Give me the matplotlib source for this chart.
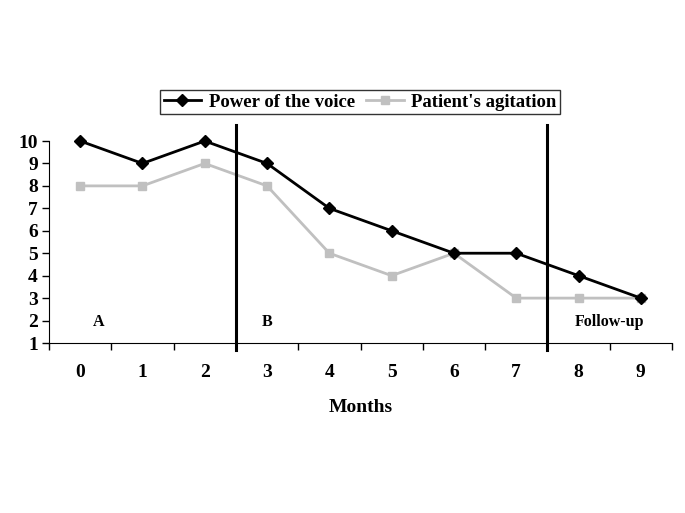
import matplotlib
matplotlib.use("Agg")
import matplotlib.pyplot as plt

months = [0, 1, 2, 3, 4, 5, 6, 7, 8, 9]
power_of_voice = [10, 9, 10, 9, 7, 6, 5, 5, 4, 3]
agitation = [8, 8, 9, 8, 5, 4, 5, 3, 3, 3]
phase_labels = ["A", "B", "Follow-up"]
phase_label_x = [0.3, 3.0, 8.5]
phase_bounds = [2.5, 7.5]

plt.rcParams['font.family'] = ['Liberation Serif', 'DejaVu Serif']
plt.rcParams['font.weight'] = 'bold'

fig = plt.figure(figsize=(6.85, 5.13), dpi=100)
ax = fig.add_axes([49/685, 1-343/513, (672-49)/685, (343-141)/513])

ax.plot(months, power_of_voice, color='black', lw=2, marker='D', ms=6,
        label='Power of the voice', zorder=3, clip_on=False)
ax.plot(months, agitation, color='#c0c0c0', lw=2, marker='s', ms=6,
        label="Patient's agitation", zorder=2, clip_on=False)

ax.set_xlim(-0.5, 9.5)
ax.set_ylim(1, 10)
ax.set_yticks(range(1, 11))
ax.set_xticks([m - 0.5 for m in months] + [9.5])
ax.set_xticklabels([])
ax.set_xticks(months, minor=True)
ax.set_xticklabels([str(m) for m in months], minor=True)
ax.tick_params(axis='x', which='minor', length=0, pad=15, labelsize=14)
ax.tick_params(axis='x', which='major', length=5, direction='out', width=1)
ax.tick_params(axis='y', length=5, width=1, labelsize=14, pad=3)
for lbl in ax.get_yticklabels() + ax.get_xticklabels(minor=True):
    lbl.set_fontweight('bold')

for s in ['top', 'right']:
    ax.spines[s].set_visible(False)

for b in phase_bounds:
    ax.plot([b, b], [0.69, 10.71], color='black', lw=2.2, clip_on=False, zorder=4)

for lbl, x in zip(phase_labels, phase_label_x):
    ax.text(x, 1.95, lbl, ha='center', va='center', fontsize=11.5, fontweight='bold')

ax.set_xlabel('Months', fontsize=14, fontweight='bold', labelpad=13)

leg = fig.legend(loc='center', bbox_to_anchor=(360/685, 1-102/513), ncol=2,
                 frameon=True, fancybox=False, edgecolor='black',
                 prop={'weight': 'bold', 'size': 13.5}, handlelength=2.0,
                 handletextpad=0.4, columnspacing=0.6, borderpad=0.2,
                 borderaxespad=0)
leg.get_frame().set_linewidth(1.0)

fig.savefig('out.png', dpi=100)
